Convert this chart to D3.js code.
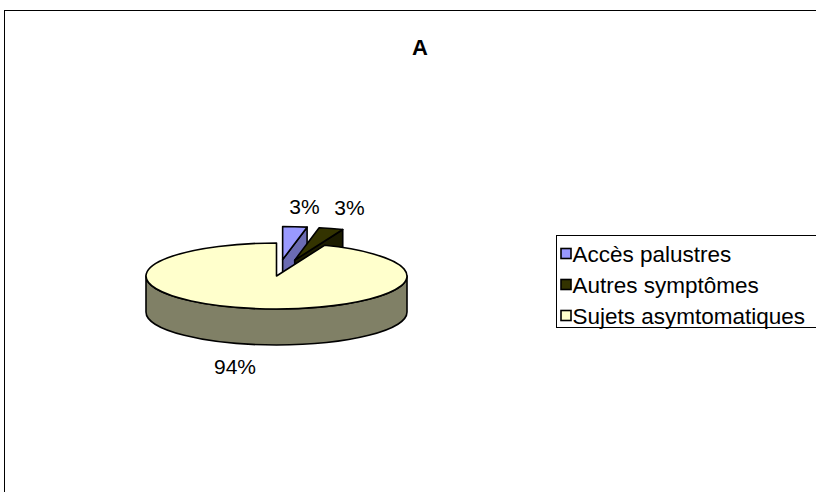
<!DOCTYPE html>
<html>
<head>
<meta charset="utf-8">
<script src="https://cdn.jsdelivr.net/npm/d3@7"></script>
<style>
  body { margin: 0; background: #fff; }
  text { font-family: "Liberation Sans", Arial, sans-serif; fill: #000; }
</style>
</head>
<body>
<script>
// chart data
const categories = ["Accès palustres", "Autres symptômes", "Sujets asymtomatiques"];
const values = [3, 3, 94];
const labels = ["3%", "3%", "94%"];
const title = "A";

// styles
const topColors = ["#9999FF", "#333300", "#FFFFCC"];
const sideColors = ["#6b6bb3", "#1c1c00", "#808066"];
const explode = [0.5, 0.5, 0];

const width = 816, height = 492;
const cx = 276.5, cy = 276, rx = 130.5, ry = 33, depth = 36;

const svg = d3.select("body").append("svg")
    .attr("width", width)
    .attr("height", height);

//outer chart border
svg.append("rect")
    .attr("x", 4.5).attr("y", 10.5)
    .attr("width", width).attr("height", height)
    .attr("fill", "#fff").attr("stroke", "#000").attr("stroke-width", 1);

svg.append("text")
    .attr("x", 420).attr("y", 55)
    .attr("text-anchor", "middle")
    .attr("font-size", 22).attr("font-weight", "bold")
    .text(title);

const pie = d3.pie().sort(null).startAngle(0).endAngle(2 * Math.PI);
const arcs = pie(values).map((d, i) => {
    const mid = (d.startAngle + d.endAngle) / 2;
    return Object.assign(d, {
        i: i,
        mid: mid,
        ox: explode[i] * rx * Math.sin(mid),
        oy: -explode[i] * ry * Math.cos(mid)
    });
});

//point on the top ellipse (dz pushes it down to the bottom rim)
function pt(d, a, dz) {
    return [cx + d.ox + rx * Math.sin(a), cy + d.oy - ry * Math.cos(a) + (dz || 0)];
}

const pieG = svg.append("g").attr("id", "pieGroup");

//back slices first
arcs.slice().sort((a, b) => Math.cos(b.mid) - Math.cos(a.mid)).forEach(d => {
    const g = pieG.append("g");
    const apex = [cx + d.ox, cy + d.oy];
    const sw = 1.6;

    const wall = a => {
        const p = pt(d, a), q = pt(d, a, depth);
        g.append("path")
            .attr("d", `M${apex}L${p}L${q}L${apex[0]},${apex[1] + depth}Z`)
            .attr("fill", sideColors[d.i])
            .attr("stroke", "#000").attr("stroke-width", sw)
            .attr("stroke-linejoin", "round");
    };
    if (Math.sin(d.endAngle) > 1e-6) wall(d.endAngle);
    if (Math.sin(d.startAngle) < -1e-6) wall(d.startAngle);

    //front curved side
    const b0 = Math.max(d.startAngle, Math.PI / 2);
    const b1 = Math.min(d.endAngle, 3 * Math.PI / 2);
    if (b1 > b0) {
        const la = b1 - b0 > Math.PI ? 1 : 0;
        const p0 = pt(d, b0), p1 = pt(d, b1), p1d = pt(d, b1, depth), p0d = pt(d, b0, depth);
        g.append("path")
            .attr("d", `M${p0}A${rx},${ry} 0 ${la} 1 ${p1}L${p1d}A${rx},${ry} 0 ${la} 0 ${p0d}Z`)
            .attr("fill", sideColors[d.i])
            .attr("stroke", "#000").attr("stroke-width", sw)
            .attr("stroke-linejoin", "round");
    }

    //top face
    const la = d.endAngle - d.startAngle > Math.PI ? 1 : 0;
    g.append("path")
        .attr("d", `M${apex}L${pt(d, d.startAngle)}A${rx},${ry} 0 ${la} 1 ${pt(d, d.endAngle)}Z`)
        .attr("fill", topColors[d.i])
        .attr("stroke", "#000").attr("stroke-width", sw)
        .attr("stroke-linejoin", "round");
});

//data labels, placed just outside the rim of each slice
svg.append("g").selectAll("text")
    .data(arcs).join("text")
    .attr("font-size", 21)
    .attr("text-anchor", d => Math.sin(d.mid) >= 0 ? "start" : "end")
    .attr("x", d => Math.sin(d.mid) >= 0
        ? pt(d, d.mid)[0] + 47 * Math.sin(d.mid) - 10
        : pt(d, d.mid)[0] + 4)
    .attr("y", d => Math.cos(d.mid) > 0 ? pt(d, d.mid)[1] - 13 : pt(d, d.mid, depth)[1] + 30)
    .text(d => labels[d.i]);

//legend
const legend = svg.append("g").attr("transform", "translate(556.5,235.5)");
legend.append("rect")
    .attr("width", 300).attr("height", 92)
    .attr("fill", "#fff").attr("stroke", "#000").attr("stroke-width", 1);

const rowY = d3.scalePoint().domain(categories).range([18, 80]);
const items = legend.selectAll("g.item")
    .data(categories).join("g")
    .attr("class", "item")
    .attr("transform", d => `translate(0,${rowY(d)})`);
items.append("rect")
    .attr("x", 4.5).attr("y", -5)
    .attr("width", 10).attr("height", 10)
    .attr("fill", (d, i) => topColors[i])
    .attr("stroke", "#000").attr("stroke-width", 1.6);
items.append("text")
    .attr("x", 16).attr("y", 8)
    .attr("font-size", 22.5)
    .text(d => d);
</script>
</body>
</html>
